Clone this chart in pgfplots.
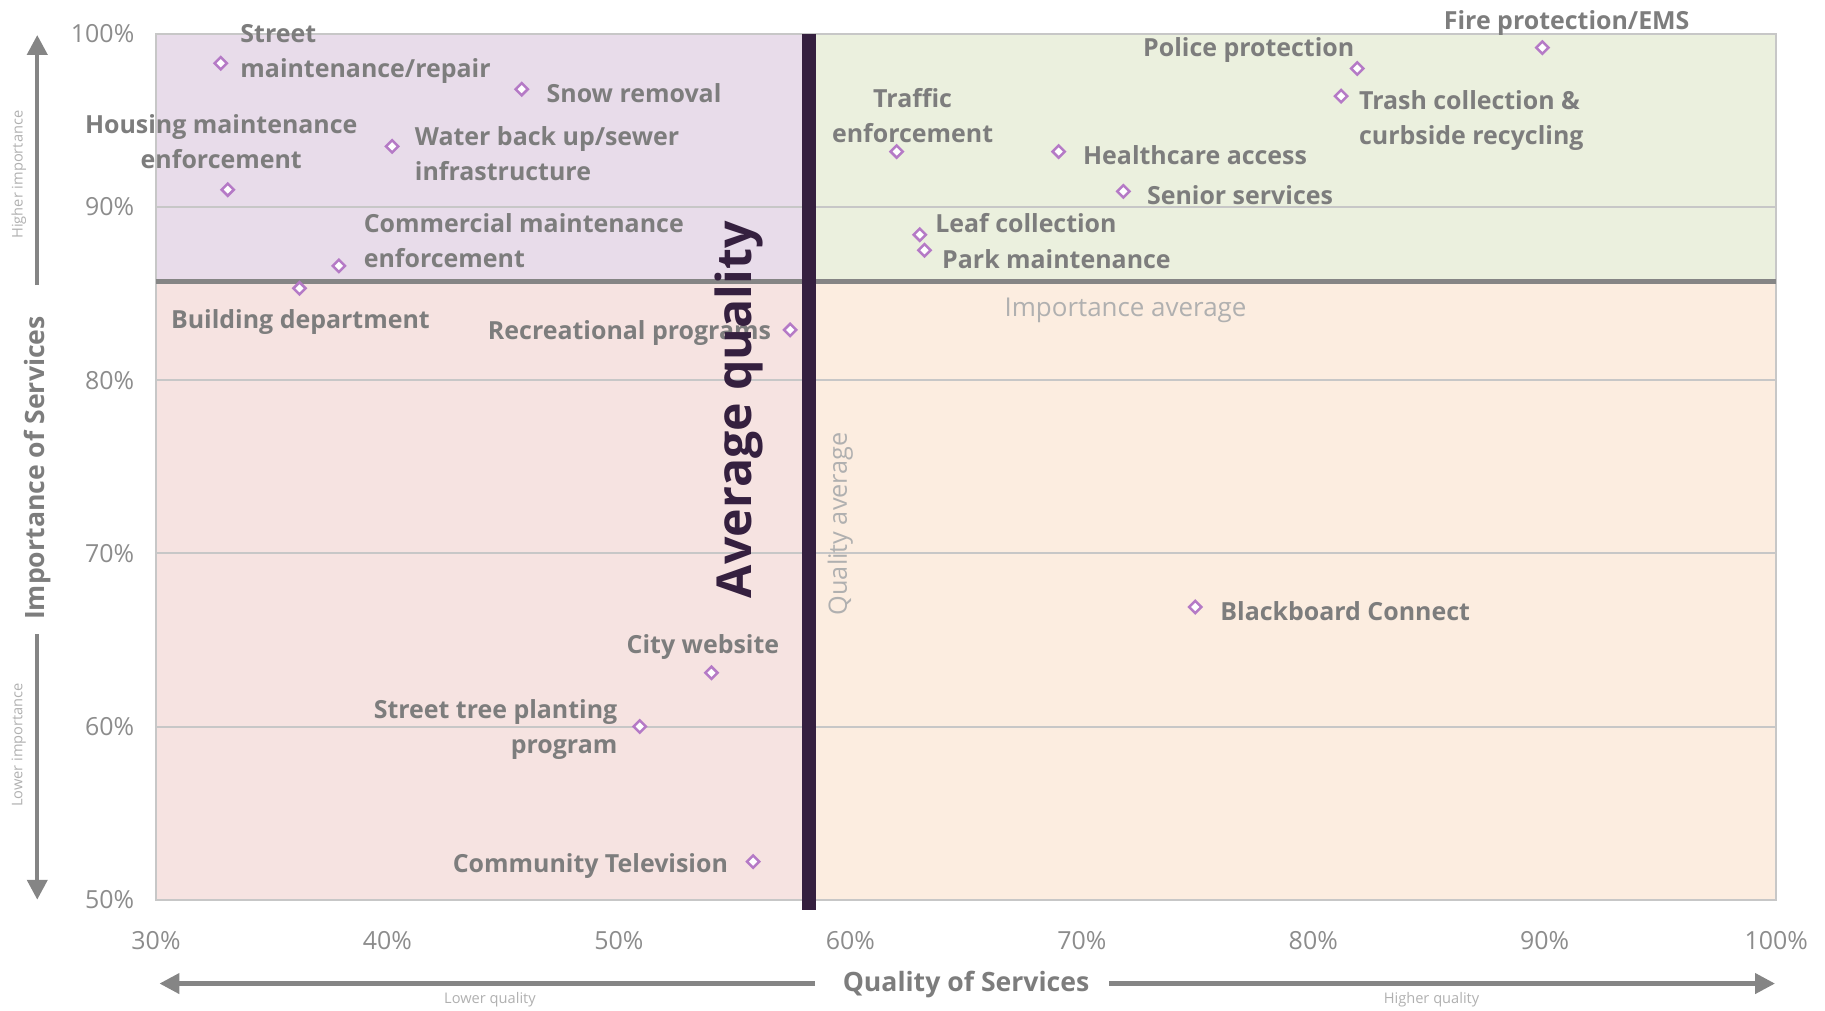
\documentclass[border=0pt]{standalone}
\usepackage{pgfplots}
\pgfplotsset{compat=1.18}
\usepackage{fontspec}
\setmainfont{Open Sans}
\usetikzlibrary{arrows.meta}

\definecolor{ulbg}{HTML}{E8DCEA}
\definecolor{urbg}{HTML}{EBF0DE}
\definecolor{llbg}{HTML}{F6E3E1}
\definecolor{lrbg}{HTML}{FCEDE0}
\definecolor{avgdark}{HTML}{35203F}
\definecolor{avggray}{HTML}{858585}
\definecolor{labgray}{HTML}{7D7D7D}
\definecolor{tickgray}{HTML}{8C8C8C}
\definecolor{faint}{HTML}{B0B0B0}
\definecolor{markpurple}{HTML}{B57AC6}

\begin{document}
\begin{tikzpicture}
\begin{axis}[
    set layers,
    scale only axis,
    width=487.2pt, height=260.4pt,
    xmin=30, xmax=100,
    ymin=50, ymax=100,
    xtick={30,40,...,100},
    ytick={50,60,...,100},
    xticklabel={\pgfmathprintnumber{\tick}\%},
    yticklabel={\pgfmathprintnumber{\tick}\%},
    /pgf/number format/assume math mode=true,
    ticklabel style={font=\fontsize{7.5}{9}\selectfont, text=tickgray},
    xticklabel style={yshift=-6pt},
    yticklabel style={xshift=-3pt},
    major tick length=0pt,
    ymajorgrids=true,
    grid style={draw=black!22, line width=0.6pt},
    axis line style={draw=black!22, line width=0.6pt},
    clip=false,
]

\begin{pgfonlayer}{axis background}
\fill[ulbg] (axis cs:30,85.7) rectangle (axis cs:58.2,100);
\fill[urbg] (axis cs:58.2,85.7) rectangle (axis cs:100,100);
\fill[llbg] (axis cs:30,50) rectangle (axis cs:58.2,85.7);
\fill[lrbg] (axis cs:58.2,50) rectangle (axis cs:100,85.7);
\end{pgfonlayer}

% averages
\draw[avggray, line width=1.75pt] (axis cs:30,85.7) -- (axis cs:100,85.7);
\draw[avgdark, line width=4.2pt] (axis cs:58.2,100) -- (axis cs:58.2,49.4);

\addplot[only marks, mark=square*, mark size=1.3pt,
    mark options={draw=markpurple, fill=white, line width=0.75pt, rotate=45}]
    coordinates {
    (32.8,98.3) (45.8,96.8) (40.2,93.5) (33.1,91.0) (37.9,86.6)
    (36.2,85.3) (57.4,82.9) (54.0,63.1) (50.9,60.0) (55.8,52.2)
    (62.0,93.2) (69.0,93.2) (71.8,90.9) (63.0,88.4) (63.2,87.5)
    (81.9,98.0) (81.2,96.4) (89.9,99.2) (74.9,66.9)
    };

\tikzset{lab/.style={font=\fontsize{7.5}{10.5}\selectfont\bfseries, text=labgray, inner sep=0pt, yshift=-1pt}}
\node[lab, anchor=west, align=left] at (axis cs:33.62,99.03) {Street\\maintenance/repair};
\node[lab, anchor=west] at (axis cs:46.85,96.77) {Snow removal};
\node[lab, align=center] at (axis cs:32.82,93.95) {Housing maintenance\\enforcement};
\node[lab, anchor=west, align=left] at (axis cs:41.16,93.25) {Water back up/sewer\\infrastructure};
\node[lab, anchor=west, align=left] at (axis cs:38.95,88.24) {Commercial maintenance\\enforcement};
\node[lab] at (axis cs:36.24,83.53) {Building department};
\node[lab, anchor=east] at (axis cs:56.60,82.93) {Recreational programs};
\node[lab] at (axis cs:53.63,64.78) {City website};
\node[lab, anchor=east, align=right] at (axis cs:49.96,60.01) {Street tree planting\\program};
\node[lab, anchor=east] at (axis cs:54.74,52.15) {Community Television};
\node[lab, align=center] at (axis cs:62.69,95.46) {Traffic\\enforcement};
\node[lab, anchor=west] at (axis cs:70.03,93.21) {Healthcare access};
\node[lab, anchor=west] at (axis cs:72.79,90.86) {Senior services};
\node[lab, anchor=west] at (axis cs:63.64,89.25) {Leaf collection};
\node[lab, anchor=west] at (axis cs:63.94,87.16) {Park maintenance};
\node[lab, anchor=east] at (axis cs:81.80,99.26) {Police protection};
\node[lab, anchor=west, align=left] at (axis cs:81.95,95.16) {Trash collection \&\\curbside recycling};
\node[lab] at (axis cs:90.95,100.81) {Fire protection/EMS};
\node[lab, anchor=west] at (axis cs:75.96,66.87) {Blackboard Connect};

% average captions
\node[rotate=90, font=\fontsize{14.5}{15}\selectfont\bfseries, text=avgdark, inner sep=0pt]
    at (axis cs:55.19,78.29) {Average quality};
\node[rotate=90, font=\fontsize{7.6}{9}\selectfont, text=faint, inner sep=0pt]
    at (axis cs:59.57,71.71) {Quality average};
\node[font=\fontsize{7.8}{9}\selectfont, text=faint, inner sep=0pt, yshift=-1pt]
    at (axis cs:71.89,84.21) {Importance average};

% y axis title and arrows
\draw[avggray, line width=1.3pt, -{Triangle[length=6pt, width=6pt]}]
    (axis cs:24.87,85.48) -- (axis cs:24.87,99.93);
\draw[avggray, line width=1.3pt, -{Triangle[length=6pt, width=6pt]}]
    (axis cs:24.87,65.32) -- (axis cs:24.87,50.0);
\node[rotate=90, font=\fontsize{8}{9}\selectfont\bfseries, text=labgray, inner sep=0pt]
    at (axis cs:24.87,74.93) {Importance of Services};
\node[rotate=90, font=\fontsize{4.4}{5}\selectfont, text=faint, inner sep=0pt]
    at (axis cs:24.07,91.87) {Higher importance};
\node[rotate=90, font=\fontsize{4.4}{5}\selectfont, text=faint, inner sep=0pt]
    at (axis cs:24.07,58.94) {Lower importance};

% x axis title and arrows
\draw[avggray, line width=1.3pt, -{Triangle[length=6pt, width=6pt]}]
    (axis cs:58.46,45.16) -- (axis cs:30.15,45.16);
\draw[avggray, line width=1.3pt, -{Triangle[length=6pt, width=6pt]}]
    (axis cs:71.18,45.16) -- (axis cs:99.95,45.16);
\node[font=\fontsize{8}{9}\selectfont\bfseries, text=labgray, inner sep=0pt, yshift=-1pt]
    at (axis cs:65.0,45.30) {Quality of Services};
\node[font=\fontsize{4.4}{5}\selectfont, text=faint, inner sep=0pt]
    at (axis cs:44.43,44.22) {Lower quality};
\node[font=\fontsize{4.4}{5}\selectfont, text=faint, inner sep=0pt]
    at (axis cs:85.11,44.22) {Higher quality};

\coordinate (bbSW) at (axis cs:23.26,43.62);
\coordinate (bbNE) at (axis cs:102.11,101.95);
\end{axis}
\pgfresetboundingbox
\path[use as bounding box] (bbSW) rectangle (bbNE);
\end{tikzpicture}
\end{document}
